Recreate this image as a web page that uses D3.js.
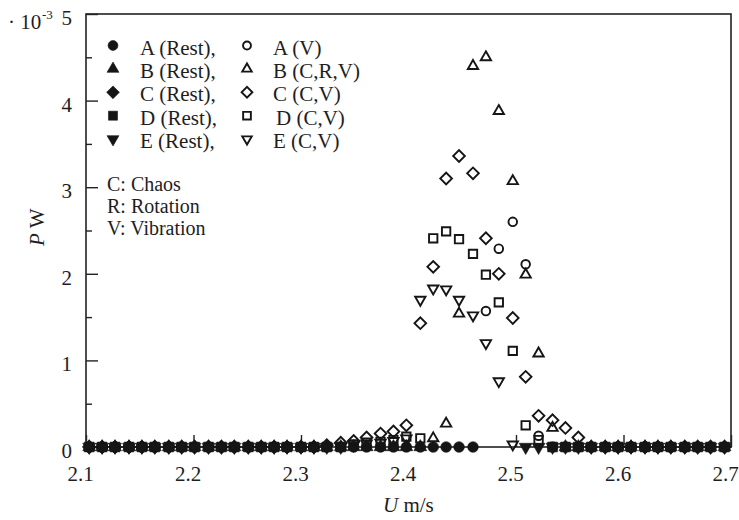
<!DOCTYPE html>
<html><head><meta charset="utf-8">
<script src="https://cdn.jsdelivr.net/npm/d3@7"></script>
<style>
body{margin:0;background:#fff}
svg text{font-family:"Liberation Serif","Times New Roman",Times,"DejaVu Serif",serif;fill:#1e1e1e}
</style></head><body>
<svg id="chart" width="739" height="520"></svg>
<script>
// Flow speed U (m/s) for each measurement
const speeds = [
  2.103, 2.115, 2.127, 2.140, 2.152, 2.164, 2.177, 2.189, 2.201, 2.214,
  2.226, 2.238, 2.251, 2.263, 2.275, 2.287, 2.300, 2.312, 2.324, 2.337,
  2.349, 2.361, 2.374, 2.386, 2.398, 2.411, 2.423, 2.435, 2.447, 2.460,
  2.472, 2.484, 2.497, 2.509, 2.521, 2.534, 2.546, 2.558, 2.570, 2.583,
  2.595, 2.607, 2.620, 2.632, 2.644, 2.657, 2.669, 2.681, 2.694
];
const N = null;
// Power P (x10^-3 W) per speed; null where the model is in the other state
const aRest = [
  0,0,0,0,0,0,0,0,0,0,  0,0,0,0,0,0,0,0,0,0,  0,0,0,0,0,0,0,0,0,0,
  N,N,N,N,N,0,0,0,0,0,  0,0,0,0,0,0,0,0,0];
const aVib = [
  N,N,N,N,N,N,N,N,N,N,  N,N,N,N,N,N,N,N,N,N,  N,N,N,N,N,N,N,N,N,N,
  1.57,2.29,2.60,2.11,0.13,N,N,N,N,N,  N,N,N,N,N,N,N,N,N];
const bRest = [
  0,0,0,0,0,0,0,0,0,0,  0,0,0,0,0,0,0,0,0,0,  0,0,0,0,0,0,N,N,N,N,
  N,N,N,N,N,N,0,0,0,0,  0,0,0,0,0,0,0,0,0];
const bChaos = [
  N,N,N,N,N,N,N,N,N,N,  N,N,N,N,N,N,N,N,N,N,  N,N,N,N,N,N,0.10,0.27,1.54,4.40,
  4.50,3.88,3.07,1.99,1.08,0.22,N,N,N,N,  N,N,N,N,N,N,N,N,N];
const cRest = [
  0,0,0,0,0,0,0,0,0,0,  0,0,0,0,0,0,0,0,N,N,  N,N,N,N,N,N,N,N,N,N,
  N,N,N,N,N,N,N,N,0,0,  0,0,0,0,0,0,0,0,0];
const cChaos = [
  N,N,N,N,N,N,N,N,N,N,  N,N,N,N,N,N,N,N,0.02,0.05,
  0.07,0.11,0.155,0.18,0.25,1.43,2.08,3.10,3.36,3.16,
  2.41,2.00,1.49,0.81,0.36,0.31,0.22,0.11,N,N,  N,N,N,N,N,N,N,N,N];
const dRest = [
  0,0,0,0,0,0,0,0,0,0,  0,0,0,0,0,0,0,0,0,0,  N,N,N,N,N,N,N,N,N,N,
  N,N,N,N,N,0,0,0,0,0,  0,0,0,0,0,0,0,0,0];
const dChaos = [
  N,N,N,N,N,N,N,N,N,N,  N,N,N,N,N,N,N,N,N,N,
  0.03,0.05,0.06,0.08,0.12,0.10,2.41,2.49,2.40,2.23,
  1.99,1.67,1.11,0.25,0.08,N,N,N,N,N,  N,N,N,N,N,N,N,N,N];
const eRest = [
  0,0,0,0,0,0,0,0,0,0,  0,0,0,0,0,0,0,0,0,0,  N,N,N,N,N,N,N,N,N,N,
  N,N,N,0,0,0,0,0,0,0,  0,0,0,0,0,0,0,0,0];
const eChaos = [
  N,N,N,N,N,N,N,N,N,N,  N,N,N,N,N,N,N,N,N,N,
  0.02,0.04,0.05,0.07,0.10,1.70,1.83,1.82,1.70,1.52,
  1.20,0.76,0.03,N,N,N,N,N,N,N,  N,N,N,N,N,N,N,N,N];

const xTicks = [2.1, 2.2, 2.3, 2.4, 2.5, 2.6, 2.7];
const yTicks = [0, 1, 2, 3, 4, 5];
const yMinorTicks = [0.5, 1.5, 2.5, 3.5, 4.5];

const legendLabels = [
  ["A (Rest),", "A (V)"],
  ["B (Rest),", "B (C,R,V)"],
  ["C (Rest),", "C (C,V)"],
  ["D (Rest),", "D (C,V)"],
  ["E (Rest),", "E (C,V)"]
];
const stateNotes = ["C: Chaos", "R: Rotation", "V: Vibration"];

const FONT = '"Liberation Serif","Times New Roman",Times,"DejaVu Serif",serif';
const FS = 21;

// marker shapes shared by the plot and the legend
const ink = "#151515";
const shapes = {
  circle:   {type: d3.symbolCircle,   fill: 90, open: 58, rot: 0},
  triangle: {type: d3.symbolTriangle, fill: 72, open: 46, rot: 0},
  diamond:  {type: d3.symbolSquare,   fill: 96, open: 68, rot: 45},
  square:   {type: d3.symbolSquare,   fill: 96, open: 70, rot: 0},
  down:     {type: d3.symbolTriangle, fill: 72, open: 46, rot: 180}
};

const series = [
  {values: aRest,  shape: "circle",   filled: true},
  {values: bRest,  shape: "triangle", filled: true},
  {values: cRest,  shape: "diamond",  filled: true},
  {values: dRest,  shape: "square",   filled: true},
  {values: eRest,  shape: "down",     filled: true},
  {values: aVib,   shape: "circle",   filled: false},
  {values: bChaos, shape: "triangle", filled: false},
  {values: cChaos, shape: "diamond",  filled: false},
  {values: dChaos, shape: "square",   filled: false},
  {values: eChaos, shape: "down",     filled: false}
];

const svg = d3.select("#chart");
const x = d3.scaleLinear().domain([2.1, 2.7]).range([86, 731]);
const y = d3.scaleLinear().domain([0, 5]).range([447, 14]);

function marker(sel, shapeName, filled, scale) {
  const s = shapes[shapeName];
  const k = scale || 1;
  sel.attr("d", d3.symbol().type(s.type).size((filled ? s.fill : s.open) * k)())
    .attr("fill", filled ? ink : "none")
    .attr("stroke", ink)
    .attr("stroke-width", filled ? 0.6 : 1.9)
    .attr("stroke-linejoin", "miter");
}

// frame
svg.append("rect")
  .attr("x", x(2.1)).attr("y", y(5))
  .attr("width", x(2.7) - x(2.1)).attr("height", y(0) - y(5))
  .attr("fill", "none").attr("stroke", "#222").attr("stroke-width", 1.6);

// x axis: inward ticks
const gx = svg.append("g").attr("transform", `translate(0,${y(0)})`)
  .call(d3.axisBottom(x).tickValues(xTicks).tickFormat(d3.format(".1f"))
    .tickSizeInner(-12).tickSizeOuter(0).tickPadding(19));
gx.select(".domain").remove();
gx.selectAll(".tick line").attr("stroke", "#222").attr("stroke-width", 1.4);
gx.selectAll(".tick text").attr("font-size", FS).attr("dx", -6)
  .attr("font-family", FONT).attr("fill", "#1e1e1e");

// y axis: major and minor inward ticks
const gy = svg.append("g").attr("transform", `translate(${x(2.1)},0)`)
  .call(d3.axisLeft(y).tickValues(yTicks).tickFormat(d3.format("d"))
    .tickSizeInner(-12).tickSizeOuter(0).tickPadding(14));
gy.select(".domain").remove();
gy.selectAll(".tick line").attr("stroke", "#222").attr("stroke-width", 1.4);
gy.selectAll(".tick text").attr("font-size", FS).attr("dy", "0.5em")
  .attr("font-family", FONT).attr("fill", "#1e1e1e");

const gyMinor = svg.append("g").attr("transform", `translate(${x(2.1)},0)`)
  .call(d3.axisLeft(y).tickValues(yMinorTicks).tickFormat("")
    .tickSizeInner(-6).tickSizeOuter(0));
gyMinor.select(".domain").remove();
gyMinor.selectAll(".tick line").attr("stroke", "#222").attr("stroke-width", 1.4);

const txt = svg.append("g").attr("font-family", FONT).attr("fill", "#1e1e1e");

// unit multiplier
txt.append("text").attr("x", 8).attr("y", 29).attr("font-size", FS).text("· 10");
txt.append("text").attr("x", 42).attr("y", 19).attr("font-size", 13).text("-3");

// axis titles
txt.append("text").attr("x", 383).attr("y", 512).attr("font-size", FS)
  .call(t => {
    t.append("tspan").attr("font-style", "italic").text("U");
    t.append("tspan").text(" m/s");
  });
txt.append("text").attr("transform", "translate(44,246) rotate(-90)").attr("font-size", FS)
  .call(t => {
    t.append("tspan").attr("font-style", "italic").text("P");
    t.append("tspan").text(" W");
  });

// data markers
const plot = svg.append("g");
series.forEach(s => {
  const pts = speeds.map((u, i) => ({u, p: s.values[i]})).filter(d => d.p !== null);
  plot.append("g").selectAll("path").data(pts).join("path")
    .call(marker, s.shape, s.filled)
    .attr("transform", d => `translate(${x(d.u)},${y(d.p)}) rotate(${shapes[s.shape].rot})`);
});

// legend
const legendShapes = ["circle", "triangle", "diamond", "square", "down"];
const lg = svg.append("g");
legendLabels.forEach((pair, i) => {
  const base = 54.5 + i * 23.4;
  lg.append("path").call(marker, legendShapes[i], true, 0.85)
    .attr("transform", `translate(113,${base - 9}) rotate(${shapes[legendShapes[i]].rot})`);
  txt.append("text").attr("x", 140).attr("y", base).attr("font-size", FS).text(pair[0]);
  lg.append("path").call(marker, legendShapes[i], false, 0.85)
    .attr("transform", `translate(247,${base - 9}) rotate(${shapes[legendShapes[i]].rot})`);
  txt.append("text").attr("x", i === 3 ? 276 : 273).attr("y", base).attr("font-size", FS).text(pair[1]);
});
// state abbreviations
stateNotes.forEach((t, i) => {
  txt.append("text").attr("x", 107).attr("y", 191 + i * 22).attr("font-size", 20).text(t);
});
</script>
</body></html>
